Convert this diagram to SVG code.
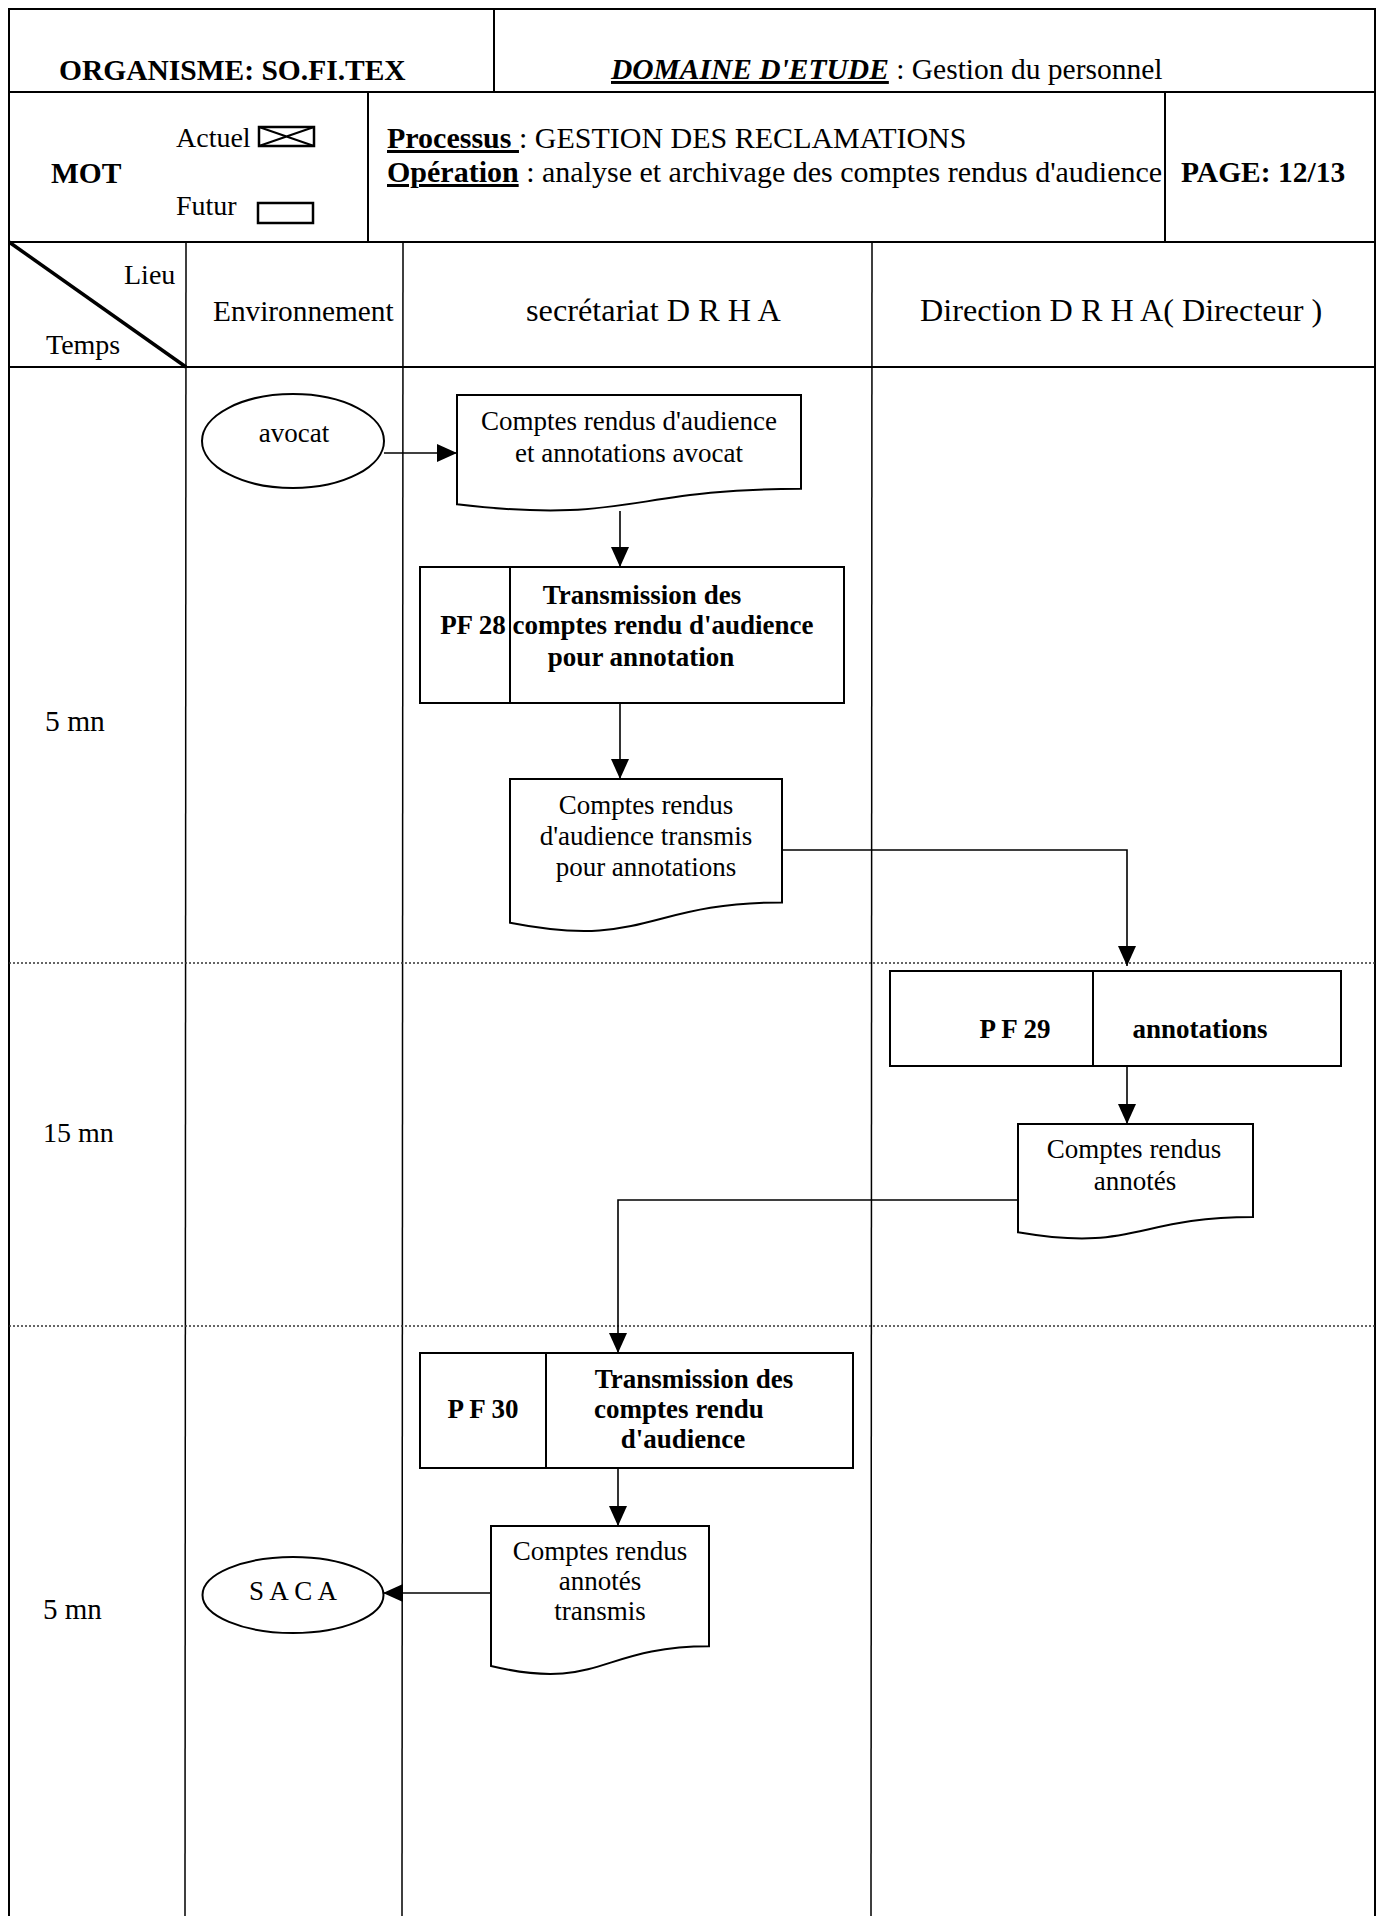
<svg xmlns="http://www.w3.org/2000/svg" width="1380" height="1916" viewBox="0 0 1380 1916">
  <style>
    text { font-family: "Liberation Serif", "Times New Roman", serif; fill: #000; }
    .t27 { font-size: 27px; }
    .t28 { font-size: 28px; }
    .hdr { font-size: 29.5px; }
    .b { font-weight: bold; }
    .mid { text-anchor: middle; }
    .grid { stroke: #000; stroke-width: 2; fill: none; }
    .thin { stroke: #000; stroke-width: 1.5; fill: none; }
    .dots { stroke: #333; stroke-width: 1.5; stroke-dasharray: 2 2; fill: none; }
    .shape { stroke: #000; stroke-width: 2; fill: #fff; }
    .link { stroke: #000; stroke-width: 1.6; fill: none; marker-end: url(#arrow); }
  </style>
  <defs>
    <marker id="arrow" markerUnits="userSpaceOnUse" markerWidth="20" markerHeight="18" refX="20" refY="9" orient="auto">
      <path d="M0,0 L20,9 L0,18 Z" fill="#000"/>
    </marker>
  </defs>

  <rect width="1380" height="1916" fill="#fff"/>

  <!-- table frame -->
  <g id="frame">
    <path class="grid" d="M9,1916 V9 H1375 V1916"/>
    <line class="grid" x1="9" y1="92" x2="1375" y2="92"/>
    <line class="grid" x1="9" y1="242" x2="1375" y2="242"/>
    <line class="grid" x1="9" y1="367" x2="1375" y2="367"/>
    <line class="grid" x1="494" y1="9" x2="494" y2="92"/>
    <line class="grid" x1="368" y1="92" x2="368" y2="242"/>
    <line class="grid" x1="1165" y1="92" x2="1165" y2="242"/>
    <line class="thin" x1="186" y1="242" x2="185" y2="1916"/>
    <line class="thin" x1="403" y1="242" x2="402" y2="1916"/>
    <line class="thin" x1="872" y1="242" x2="871" y2="1916"/>
    <line stroke="#000" stroke-width="3.5" x1="9" y1="242" x2="186" y2="367"/>
    <line class="dots" x1="9" y1="963" x2="1375" y2="963"/>
    <line class="dots" x1="9" y1="1326" x2="1375" y2="1326"/>
  </g>

  <!-- header texts -->
  <g id="header">
    <text class="hdr b" x="59" y="80">ORGANISME: SO.FI.TEX</text>
    <text class="hdr" x="611" y="79"><tspan font-weight="bold" font-style="italic" text-decoration="underline">DOMAINE D'ETUDE</tspan> : Gestion du personnel</text>
    <text class="hdr b" x="51" y="183">MOT</text>
    <text class="t28" x="176" y="147">Actuel</text>
    <rect x="259" y="127" width="55" height="19" fill="none" stroke="#000" stroke-width="2.5"/>
    <path d="M259,127 L314,146 M259,146 L314,127" stroke="#000" stroke-width="2"/>
    <text class="t28" x="176" y="215">Futur</text>
    <rect x="258" y="203" width="55" height="20" fill="none" stroke="#000" stroke-width="2.5"/>
    <text x="387" y="148" font-size="30"><tspan font-weight="bold" text-decoration="underline">Processus </tspan> : GESTION DES RECLAMATIONS</text>
    <text x="387" y="182" font-size="30"><tspan font-weight="bold" text-decoration="underline">Opération</tspan>  : analyse et archivage des comptes rendus d'audience</text>
    <text class="hdr b" x="1181" y="182">PAGE: 12/13</text>
    <text class="t28" x="124" y="284">Lieu</text>
    <text class="t28" x="46" y="354">Temps</text>
    <text x="213" y="321" font-size="29.3">Environnement</text>
    <text x="526" y="321" font-size="32.3">secrétariat D R H A</text>
    <text x="920" y="321" font-size="32.2">Direction D R H A( Directeur )</text>
  </g>

  <!-- time column -->
  <g id="durations">
    <text x="45" y="731" font-size="29.5">5 mn</text>
    <text class="t28" x="43" y="1142">15 mn</text>
    <text x="43" y="1619" font-size="29">5 mn</text>
  </g>

  <!-- connectors -->
  <g id="connectors">
    <path class="link" d="M384,453 H457"/>
    <path class="link" d="M620,511 V567"/>
    <path class="link" d="M620,703 V779"/>
    <path class="link" d="M782,850 H1127 V966"/>
    <path class="link" d="M1127,1067 V1124"/>
    <path class="link" d="M1018,1200 H618 V1353"/>
    <path class="link" d="M618,1468 V1526"/>
    <path class="link" d="M491,1593 H383"/>
  </g>

  <!-- nodes -->
  <g id="avocat">
    <ellipse class="shape" cx="293" cy="441" rx="91" ry="47"/>
    <text class="t27 mid" x="294" y="442">avocat</text>
  </g>

  <g id="doc-comptes-rendus-avocat">
    <path class="shape" d="M457,395 H801 V488.8 C629,488.8 629,524.6 457,504.3 Z"/>
    <text class="t27 mid" x="629" y="430">Comptes rendus d'audience</text>
    <text class="t27 mid" x="629" y="462">et annotations avocat</text>
  </g>

  <g id="pf28">
    <rect class="shape" x="420" y="567" width="424" height="136"/>
    <line class="grid" x1="510" y1="567" x2="510" y2="703"/>
    <text class="t27 b mid" x="473" y="634">PF 28</text>
    <text class="t27 b mid" x="642" y="604">Transmission des</text>
    <text class="t27 b mid" x="663" y="634">comptes rendu d'audience</text>
    <text class="t27 b mid" x="641" y="666">pour annotation</text>
  </g>

  <g id="doc-transmis-annotations">
    <path class="shape" d="M510,779 H782 V902.5 C646,902.5 646,949.5 510,922.8 Z"/>
    <text class="t27 mid" x="646" y="814">Comptes rendus</text>
    <text class="t27 mid" x="646" y="845">d'audience transmis</text>
    <text class="t27 mid" x="646" y="876">pour annotations</text>
  </g>

  <g id="pf29">
    <rect class="shape" x="890" y="971" width="451" height="95"/>
    <line class="grid" x1="1093" y1="971" x2="1093" y2="1066"/>
    <text class="t27 b mid" x="1015" y="1038">P F 29</text>
    <text class="t27 b mid" x="1200" y="1038">annotations</text>
  </g>

  <g id="doc-annotes">
    <path class="shape" d="M1018,1124 H1253 V1217 C1135.5,1217 1135.5,1252.5 1018,1232.3 Z"/>
    <text class="t27 mid" x="1134" y="1158">Comptes rendus</text>
    <text class="t27 mid" x="1135" y="1190">annotés</text>
  </g>

  <g id="pf30">
    <rect class="shape" x="420" y="1353" width="433" height="115"/>
    <line class="grid" x1="546" y1="1353" x2="546" y2="1468"/>
    <text class="t27 b mid" x="483" y="1418">P F 30</text>
    <text class="t27 b mid" x="694" y="1388">Transmission des</text>
    <text class="t27 b mid" x="679" y="1418">comptes rendu</text>
    <text class="t27 b mid" x="683" y="1448">d'audience</text>
  </g>

  <g id="doc-annotes-transmis">
    <path class="shape" d="M491,1526 H709 V1646.3 C600,1646.3 600,1692 491,1666 Z"/>
    <text class="t27 mid" x="600" y="1560">Comptes rendus</text>
    <text class="t27 mid" x="600" y="1590">annotés</text>
    <text class="t27 mid" x="600" y="1620">transmis</text>
  </g>

  <g id="saca">
    <ellipse class="shape" cx="293" cy="1595" rx="90.5" ry="38"/>
    <text class="t27 mid" x="293" y="1600">S A C A</text>
  </g>
</svg>
